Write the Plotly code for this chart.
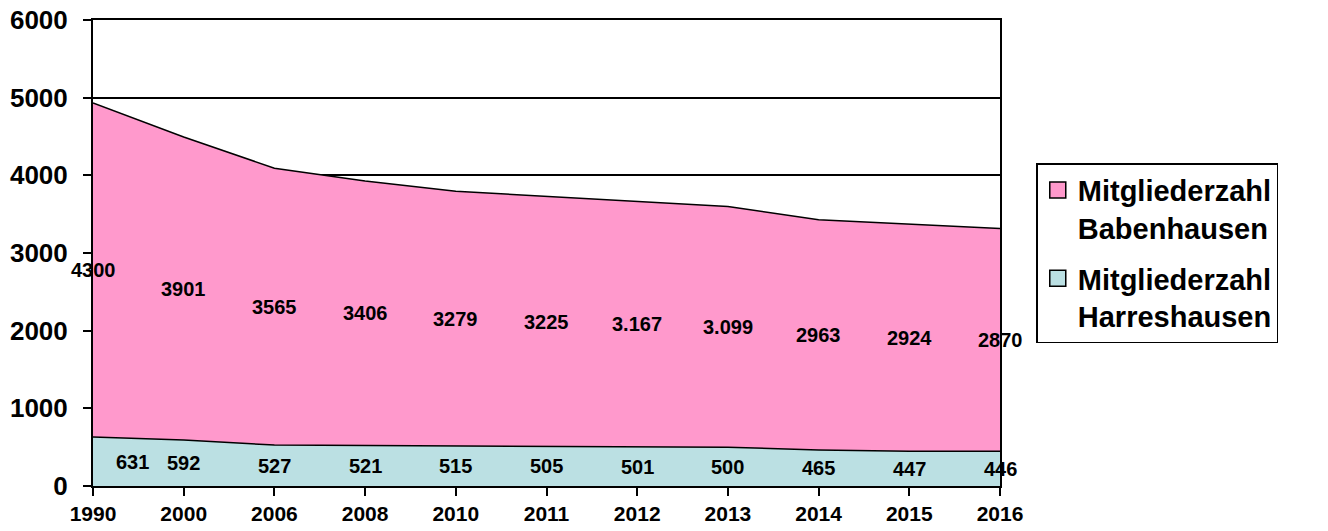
import plotly.graph_objects as go

years = ["1990", "2000", "2006", "2008", "2010", "2011", "2012", "2013", "2014", "2015", "2016"]
harreshausen = [631, 592, 527, 521, 515, 505, 501, 500, 465, 447, 446]
babenhausen = [4300, 3901, 3565, 3406, 3279, 3225, 3167, 3099, 2963, 2924, 2870]
harreshausen_labels = ["631", "592", "527", "521", "515", "505", "501", "500", "465", "447", "446"]
babenhausen_labels = ["4300", "3901", "3565", "3406", "3279", "3225", "3.167", "3.099", "2963", "2924", "2870"]
y_ticks = [0, 1000, 2000, 3000, 4000, 5000, 6000]

FONT = "Arial, Liberation Sans, sans-serif"
PINK = "#FF99CC"
BLUE = "#BBE0E3"

fig = go.Figure()
fig.add_trace(go.Scatter(
    x=years, y=harreshausen, name="Harreshausen", showlegend=False,
    stackgroup="one", mode="lines",
    line=dict(color="black", width=1.5), fillcolor=BLUE,
))
fig.add_trace(go.Scatter(
    x=years, y=babenhausen, name="Babenhausen", showlegend=False,
    stackgroup="one", mode="lines",
    line=dict(color="black", width=1.5), fillcolor=PINK,
))
# legend entries (square swatches)
fig.add_trace(go.Scatter(
    x=[None], y=[None], mode="markers", name="Mitgliederzahl<br>Babenhausen",
    legendgroup="a", legendrank=1,
    marker=dict(symbol="square", size=17, color=PINK, line=dict(color="black", width=1.5)),
))
fig.add_trace(go.Scatter(
    x=[None], y=[None], mode="markers", name="Mitgliederzahl<br>Harreshausen",
    legendgroup="b", legendrank=2,
    marker=dict(symbol="square", size=17, color=BLUE, line=dict(color="black", width=1.5)),
))

label_font = dict(family=FONT, size=20, color="black", weight="bold")
for i, (h, b, hl, bl) in enumerate(zip(harreshausen, babenhausen,
                                       harreshausen_labels, babenhausen_labels)):
    hshift = 39 if i == 0 else 0
    fig.add_annotation(x=i, y=h / 2, text=hl, showarrow=False,
                       font=label_font, xshift=hshift)
    fig.add_annotation(x=i, y=h + b / 2, text=bl, showarrow=False,
                       font=label_font)

fig.update_layout(
    width=1328, height=531,
    margin=dict(l=93, r=328, t=20, b=45),
    paper_bgcolor="white", plot_bgcolor="white",
    font=dict(family=FONT, color="black"),
    showlegend=True,
    legend=dict(
        x=1.04, y=0.693, xanchor="left", yanchor="top",
        bordercolor="black", borderwidth=1.5,
        font=dict(family=FONT, size=29, color="black", weight="bold"),
        itemwidth=30,
        traceorder="grouped",
        tracegroupgap=10,
        valign="top",
    ),
    xaxis=dict(
        type="category", range=[0, len(years) - 1], automargin=False,
        showgrid=False, showline=True, linecolor="black", linewidth=2, mirror=True,
        ticks="outside", ticklen=8, tickwidth=2, tickcolor="black",
        tickfont=dict(family=FONT, size=21, color="black", weight="bold"),
        ticklabeloverflow="allow",
    ),
    yaxis=dict(
        range=[0, 6000], tickvals=y_ticks, automargin=False,
        showgrid=True, gridcolor="black", gridwidth=1.5,
        showline=True, linecolor="black", linewidth=2, mirror=True,
        ticks="outside", ticklen=8, tickwidth=2, tickcolor="black",
        tickfont=dict(family=FONT, size=26, color="black", weight="bold"),
        ticklabelstandoff=10, ticklabeloverflow="allow",
        zeroline=False,
    ),
)

# remove the browser's default 8px body margin so the figure fills the window exactly
fig.write_html("out.html", config={"displayModeBar": False},
               post_script="document.body.style.margin='0';")
